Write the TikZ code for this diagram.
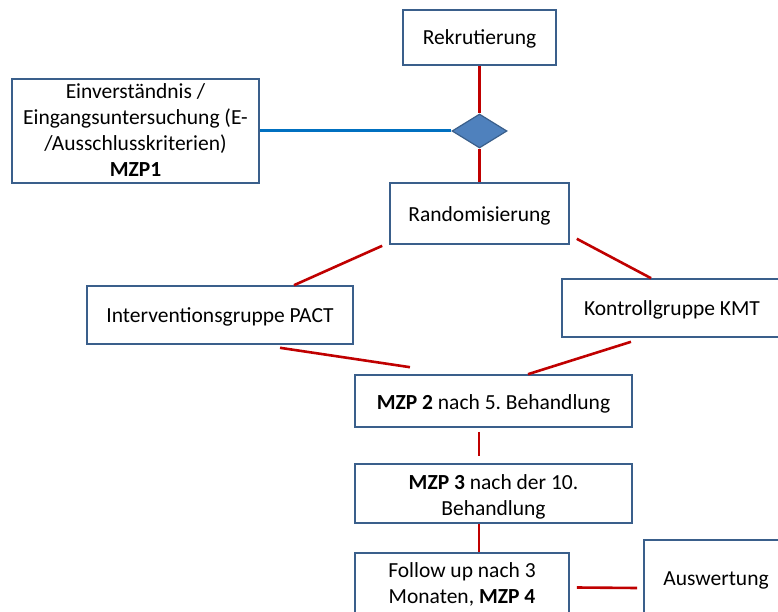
\documentclass[tikz,border=0pt]{standalone}
\usepackage{fontspec}
\setmainfont{Carlito}
\frenchspacing
\usetikzlibrary{shapes.geometric}
\definecolor{boxline}{HTML}{3A5F8B}
\definecolor{conred}{HTML}{C00000}
\definecolor{conblue}{HTML}{0070C0}
\definecolor{diafill}{HTML}{4F81BD}
\begin{document}
\begin{tikzpicture}[x=1pt,y=-1pt,
  flowbox/.style={draw=boxline,line width=1.6pt,fill=white,inner sep=0pt},
  boxtext/.style={inner sep=0pt,align=center,anchor=base,
    font=\fontsize{21.5}{26}\selectfont\frenchspacing},
  redcon/.style={draw=conred,line width=2.6pt},
  bluecon/.style={draw=conblue,line width=3pt}]
\clip (0,0) rectangle (778,612);
\fill[white] (0,0) rectangle (778,612);

\node[flowbox,minimum width=153pt,minimum height=55pt] (rek) at (479.5,37.5) {};
\node[boxtext] (rekt) at (479.5,45) {Rekrutierung};
\node[diamond,draw=boxline,fill=diafill,line width=1.2pt,minimum width=55pt,minimum height=34pt,inner sep=0pt] (dia) at (479.5,131) {};
\node[flowbox,minimum width=247pt,minimum height=104pt] (einv) at (135.5,131) {};
\node[boxtext] (einvt) at (135.5,176.7)
  {Einverständnis /\\Eingangsuntersuchung (E-\\/Ausschlusskriterien)\\\textbf{MZP1}};
\node[flowbox,minimum width=179pt,minimum height=61pt] (rand) at (479.5,213.5) {};
\node[boxtext] (randt) at (479.5,221.5) {Randomisierung};
\node[flowbox,minimum width=266pt,minimum height=58pt] (interv) at (220,315) {};
\node[boxtext] (intervt) at (220,322) {Interventionsgruppe PACT};
\node[flowbox,minimum width=220pt,minimum height=58pt] (kontr) at (672,308) {};
\node[boxtext] (kontrt) at (672,315) {Kontrollgruppe KMT};
\node[flowbox,minimum width=277pt,minimum height=52pt] (mzp2) at (493.5,401) {};
\node[boxtext] (mzp2t) at (493.5,409) {\textbf{MZP 2} nach 5. Behandlung};
\node[flowbox,minimum width=277pt,minimum height=59pt] (mzp3) at (493.5,493.5) {};
\node[boxtext] (mzp3t) at (493.5,515) {\textbf{MZP 3} nach der 10.\\Behandlung};
\node[flowbox,minimum width=214pt,minimum height=61pt] (follow) at (462,583.5) {};
\node[boxtext] (followt) at (462,603) {Follow up nach 3\\Monaten, \textbf{MZP 4}};
\node[flowbox,minimum width=144pt,minimum height=76pt] (ausw) at (716,578) {};
\node[boxtext] (auswt) at (716,585) {Auswertung};

\draw[redcon] (rek.south) -- (dia.north);
\draw[redcon] (dia.south) -- (rand.north);
\draw[bluecon] (einv.east) -- (dia.west);
\draw[redcon] ([xshift=-7pt,yshift=-1pt]rand.south west) -- ([xshift=74pt]interv.north);
\draw[redcon] ([xshift=7pt,yshift=6pt]rand.south east) -- ([xshift=-21pt]kontr.north);
\draw[redcon] ([xshift=60pt,yshift=-3pt]interv.south) -- ([xshift=-83.5pt,yshift=7pt]mzp2.north);
\draw[redcon] ([xshift=-41pt,yshift=-4pt]kontr.south) -- ([xshift=34.5pt]mzp2.north);
\draw[redcon] ([xshift=-14.5pt,yshift=-4pt]mzp2.south) -- ([xshift=-14.5pt,yshift=7pt]mzp3.north);
\draw[redcon] ([xshift=-14.5pt]mzp3.south) -- ([xshift=-14.5pt]mzp3.south |- follow.north);
\draw[redcon] ([xshift=7pt,yshift=-4pt]follow.east) -- ([xshift=-6pt,yshift=-10pt]ausw.west);
\end{tikzpicture}
\end{document}
